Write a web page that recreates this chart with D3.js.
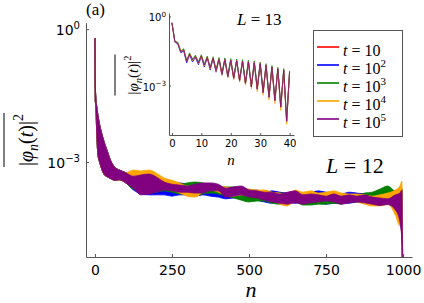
<!DOCTYPE html>
<html>
<head>
<meta charset="utf-8">
<script src="https://cdn.jsdelivr.net/npm/d3@7"></script>
<style>
  body { margin: 0; background: #fff; }
  svg { display: block; }
</style>
</head>
<body>
<svg id="chart" width="424" height="303"></svg>
<script>
// series: t = 10, 10^2, ... 10^5
const seriesExps = [1, 2, 3, 4, 5];
const seriesColors = ["#ff0000", "#0000ff", "#008000", "#ffa500", "#800080"];

// main panel (L = 12): the curves oscillate fast, so each is kept as a band
// values are log10 |phi_n|^2
const headN  = [0, 1, 3, 6, 10, 15, 20, 30, 40, 50, 65, 80, 100];
const headHi = [-0.20, -1.20, -1.55, -1.75, -1.95, -2.15, -2.30, -2.55, -2.75, -2.95, -3.12, -3.18, -3.24];
const headLo = [-0.25, -1.60, -1.75, -2.40, -2.85, -3.00, -3.12, -3.28, -3.33, -3.37, -3.41, -3.40, -3.47];

const midN = [125, 150, 175, 200, 225, 250, 275, 300, 325, 350, 375, 400, 425, 450, 475, 500, 525, 550,
  575, 600, 625, 650, 675, 700, 725, 750, 775, 800, 825, 850, 875, 900, 925, 950, 975, 990, 996];

const redHi = [-3.30,-3.33,-3.35,-3.40,-3.44,-3.48,-3.49,-3.51,-3.52,-3.51,-3.53,-3.55,-3.59,-3.60,-3.61,-3.64,-3.65,-3.67,-3.67,-3.69,-3.70,-3.70,-3.71,-3.70,-3.68,-3.69,-3.71,-3.72,-3.70,-3.71,-3.72,-3.74,-3.75,-3.75,-3.72,-3.66,-3.60];
const redLo = [-3.60,-3.70,-3.72,-3.72,-3.70,-3.73,-3.72,-3.72,-3.75,-3.73,-3.74,-3.77,-3.81,-3.80,-3.81,-3.82,-3.84,-3.87,-3.90,-3.89,-3.89,-3.90,-3.90,-3.88,-3.90,-3.92,-3.91,-3.92,-3.90,-3.89,-3.91,-3.92,-3.93,-3.92,-4.06,-4.30,-4.70];
const blueHi = [-3.29,-3.32,-3.34,-3.38,-3.43,-3.47,-3.47,-3.50,-3.52,-3.50,-3.52,-3.54,-3.59,-3.59,-3.61,-3.63,-3.63,-3.68,-3.65,-3.68,-3.70,-3.70,-3.70,-3.68,-3.65,-3.68,-3.70,-3.72,-3.68,-3.70,-3.72,-3.74,-3.77,-3.77,-3.72,-3.68,-3.63];
const blueLo = [-3.63,-3.72,-3.74,-3.74,-3.74,-3.77,-3.74,-3.74,-3.77,-3.74,-3.77,-3.79,-3.83,-3.81,-3.83,-3.83,-3.86,-3.90,-3.93,-3.90,-3.90,-3.93,-3.90,-3.90,-3.93,-3.95,-3.93,-3.93,-3.93,-3.90,-3.93,-3.93,-3.95,-3.93,-4.08,-4.35,-4.65];
const greenHi = [-3.27,-3.32,-3.32,-3.36,-3.43,-3.47,-3.50,-3.47,-3.45,-3.47,-3.52,-3.54,-3.56,-3.56,-3.59,-3.63,-3.65,-3.65,-3.68,-3.70,-3.70,-3.68,-3.72,-3.74,-3.72,-3.74,-3.72,-3.74,-3.77,-3.77,-3.70,-3.68,-3.61,-3.54,-3.65,-3.63,-3.59];
const greenLo = [-3.61,-3.68,-3.70,-3.68,-3.65,-3.68,-3.72,-3.70,-3.77,-3.72,-3.70,-3.72,-3.77,-3.81,-3.86,-3.90,-3.88,-3.88,-3.93,-3.95,-3.93,-3.90,-3.97,-3.97,-3.95,-3.95,-3.93,-3.95,-3.90,-3.90,-3.88,-3.86,-3.83,-3.81,-3.95,-4.20,-4.53];
const orangeHi = [-3.18,-3.20,-3.18,-3.25,-3.36,-3.41,-3.47,-3.54,-3.54,-3.50,-3.52,-3.54,-3.56,-3.59,-3.59,-3.61,-3.63,-3.63,-3.68,-3.70,-3.74,-3.63,-3.68,-3.65,-3.70,-3.68,-3.65,-3.70,-3.72,-3.72,-3.74,-3.77,-3.74,-3.70,-3.63,-3.54,-3.43];
const orangeLo = [-3.54,-3.63,-3.63,-3.59,-3.61,-3.63,-3.70,-3.77,-3.79,-3.68,-3.63,-3.68,-3.74,-3.77,-3.74,-3.77,-3.79,-3.81,-3.83,-3.95,-3.99,-3.86,-3.86,-3.83,-3.83,-3.83,-3.81,-3.88,-3.86,-3.90,-3.95,-3.99,-3.99,-3.95,-4.20,-4.44,-4.08];
const purpleHi = [-3.32,-3.29,-3.27,-3.34,-3.45,-3.50,-3.52,-3.54,-3.50,-3.47,-3.47,-3.50,-3.59,-3.56,-3.54,-3.63,-3.65,-3.68,-3.68,-3.72,-3.68,-3.65,-3.74,-3.72,-3.74,-3.77,-3.72,-3.77,-3.74,-3.77,-3.74,-3.79,-3.81,-3.83,-3.74,-3.70,-3.63];
const purpleLo = [-3.59,-3.74,-3.72,-3.68,-3.63,-3.65,-3.68,-3.68,-3.70,-3.70,-3.65,-3.65,-3.79,-3.77,-3.74,-3.79,-3.81,-3.86,-3.90,-3.93,-3.95,-3.92,-3.95,-3.92,-3.90,-3.88,-3.90,-3.95,-3.92,-3.90,-3.92,-3.95,-3.98,-3.96,-4.08,-4.35,-4.76];

// last site drops below the axis
const endN = 1000;
const endLog = -7;

// inset (L = 13), log10 values for n = 0..40
const insetN = [0,1,2,3,4,5,6,7,8,9,10,11,12,13,14,15,16,17,18,19,20,21,22,23,24,25,26,27,28,29,30,31,32,33,34,35,36,37,38,39,40];
const insetRed    = [-0.28,-1.09,-1.15,-1.52,-1.44,-1.96,-1.62,-1.89,-1.73,-2.02,-1.70,-2.12,-1.77,-2.25,-1.80,-2.36,-1.84,-2.51,-1.86,-2.61,-1.89,-2.69,-1.91,-2.79,-1.94,-2.91,-1.96,-3.06,-1.99,-3.16,-2.04,-3.31,-2.11,-3.51,-2.19,-3.66,-2.27,-3.94,-2.32,-4.56,-2.39];
const insetBlue   = [-0.28,-1.12,-1.20,-1.58,-1.50,-2.02,-1.68,-1.98,-1.78,-2.10,-1.75,-2.20,-1.80,-2.33,-1.83,-2.42,-1.86,-2.55,-1.88,-2.64,-1.91,-2.70,-1.93,-2.80,-1.96,-2.92,-1.98,-3.07,-2.01,-3.17,-2.06,-3.32,-2.13,-3.52,-2.21,-3.67,-2.29,-3.95,-2.34,-4.55,-2.41];
const insetGreen  = [-0.28,-1.08,-1.12,-1.50,-1.40,-1.90,-1.58,-1.86,-1.68,-1.97,-1.66,-2.08,-1.72,-2.20,-1.75,-2.30,-1.78,-2.45,-1.80,-2.55,-1.83,-2.63,-1.85,-2.72,-1.88,-2.85,-1.90,-3.00,-1.93,-3.10,-1.98,-3.25,-2.05,-3.45,-2.13,-3.60,-2.21,-3.88,-2.26,-4.50,-2.36];
const insetOrange = [-0.28,-1.10,-1.16,-1.53,-1.45,-1.94,-1.62,-1.92,-1.74,-2.03,-1.71,-2.14,-1.77,-2.27,-1.80,-2.39,-1.84,-2.55,-1.86,-2.66,-1.89,-2.75,-1.91,-2.86,-1.94,-2.99,-1.96,-3.14,-1.99,-3.26,-2.04,-3.42,-2.11,-3.62,-2.19,-3.78,-2.27,-4.08,-2.32,-4.68,-2.39];
const insetPurple = [-0.28,-1.10,-1.17,-1.54,-1.46,-1.95,-1.64,-1.90,-1.75,-2.01,-1.72,-2.11,-1.78,-2.24,-1.81,-2.35,-1.85,-2.50,-1.87,-2.60,-1.90,-2.68,-1.92,-2.78,-1.95,-2.90,-1.97,-3.05,-2.00,-3.15,-2.05,-3.30,-2.12,-3.50,-2.20,-3.65,-2.28,-3.93,-2.33,-4.55,-2.40];

const mainTicksX = [0, 250, 500, 750, 1000];
const insetTicksX = [0, 10, 20, 30, 40];
const ticksY = [0, -3];   // exponents
const yDomain = [7.2e-6, 1.4];

const mainBands = [
  { hi: redHi, lo: redLo },
  { hi: blueHi, lo: blueLo },
  { hi: greenHi, lo: greenLo },
  { hi: orangeHi, lo: orangeLo },
  { hi: purpleHi, lo: purpleLo }
];
const insetLines = [insetRed, insetBlue, insetGreen, insetOrange, insetPurple];

const axisColor = "#555";
const sans = "DejaVu Sans, sans-serif";
const serif = "Liberation Serif, DejaVu Serif, serif";

const svg = d3.select("#chart");

// ---------- main panel ----------
const x = d3.scaleLinear().domain([-29, 1029]).range([86, 412]);
const y = d3.scaleLog().domain(yDomain).range([257, 22.7]);

svg.append("clipPath").attr("id", "mainClip")
  .append("rect")
  .attr("x", x.range()[0]).attr("y", y.range()[1])
  .attr("width", x.range()[1] - x.range()[0])
  .attr("height", y.range()[0] - y.range()[1]);

const area = d3.area()
  .x(d => x(d.n))
  .y0(d => y(Math.pow(10, d.lo)))
  .y1(d => y(Math.pow(10, d.hi)))
  .curve(d3.curveMonotoneX);

const bandGroup = svg.append("g").attr("clip-path", "url(#mainClip)");
mainBands.forEach((b, i) => {
  const rows = headN.map((n, k) => ({ n: n, hi: headHi[k], lo: headLo[k] }))
    .concat(midN.map((n, k) => ({ n: n, hi: b.hi[k], lo: b.lo[k] })))
    .concat([{ n: endN, hi: endLog, lo: endLog }]);
  bandGroup.append("path")
    .datum(rows)
    .attr("d", area)
    .attr("fill", seriesColors[i])
    .attr("stroke", seriesColors[i])
    .attr("stroke-width", 0.8);
});

function styleAxis(g) {
  g.select(".domain").attr("stroke", axisColor);
  g.selectAll(".tick line").attr("stroke", axisColor);
}

function powerLabel(sel, exp, size) {
  sel.text(null);
  sel.append("tspan").text("10");
  sel.append("tspan")
    .attr("dy", -size * 0.42)
    .attr("font-size", size * 0.72)
    .text(exp === 0 ? "0" : "\u2212" + Math.abs(exp));
}

const gx = svg.append("g")
  .attr("transform", `translate(0,${y.range()[0]})`)
  .call(d3.axisBottom(x).tickValues(mainTicksX).tickFormat(d3.format("d"))
    .tickSize(-3).tickSizeOuter(0).tickPadding(8))
  .call(styleAxis);
gx.selectAll("text").attr("font-family", sans).attr("font-size", 14).attr("fill", "#000");

svg.append("g")
  .attr("transform", `translate(${x.range()[0]},0)`)
  .call(d3.axisLeft(y).tickValues(ticksY.map(e => Math.pow(10, e))).tickSize(-3).tickSizeOuter(0).tickFormat(""))
  .call(styleAxis);

ticksY.forEach(e => {
  const t = svg.append("text")
    .attr("x", 80)
    .attr("y", y(Math.pow(10, e)) + 6)
    .attr("text-anchor", "end")
    .attr("font-family", sans)
    .attr("font-size", 14);
  powerLabel(t, e, 14);
});

// y label with overline, rotated
function overLabel(cx, cy, size, gap) {
  const g = svg.append("g").attr("transform", `translate(${cx},${cy}) rotate(-90)`);
  const t = g.append("text")
    .attr("text-anchor", "middle")
    .attr("font-family", serif)
    .attr("font-size", size);
  t.append("tspan").text("|");
  t.append("tspan").attr("font-style", "italic").text("\u03c6");
  t.append("tspan").attr("font-style", "italic").attr("font-size", size * 0.7).attr("dy", size * 0.25).text("n");
  t.append("tspan").attr("dy", -size * 0.25).text("(");
  t.append("tspan").attr("font-style", "italic").text("t");
  t.append("tspan").text(")|");
  t.append("tspan").attr("font-size", size * 0.7).attr("dy", -size * 0.5).text("2");
  const w = t.node().getComputedTextLength();
  g.append("line")
    .attr("x1", -w / 2 - 1).attr("x2", w / 2 + 1)
    .attr("y1", -gap).attr("y2", -gap)
    .attr("stroke", "#000").attr("stroke-width", 1);
}
overLabel(33, 140, 20, 29);

svg.append("text")
  .attr("x", 251).attr("y", 297)
  .attr("text-anchor", "middle")
  .attr("font-family", serif).attr("font-style", "italic").attr("font-size", 22)
  .text("n");

svg.append("text")
  .attr("x", 86).attr("y", 15)
  .attr("font-family", serif).attr("font-size", 17)
  .text("(a)");

function lLabel(xp, yp, size, val) {
  const t = svg.append("text").attr("x", xp).attr("y", yp)
    .attr("font-family", serif).attr("font-size", size);
  t.append("tspan").attr("font-style", "italic").text("L");
  t.append("tspan").text(" = " + val);
}
lLabel(326, 173, 22, 12);
lLabel(237, 25, 17, 13);

// ---------- inset ----------
const xi = d3.scaleLinear().domain([-1, 41.5]).range([169, 294]);
const yi = d3.scaleLog().domain(yDomain).range([135, 13]);

const insetLine = d3.line()
  .x((d, k) => xi(insetN[k]))
  .y(d => yi(Math.pow(10, d)));

insetLines.forEach((vals, i) => {
  svg.append("path")
    .datum(vals)
    .attr("d", insetLine)
    .attr("fill", "none")
    .attr("stroke", seriesColors[i])
    .attr("stroke-opacity", 0.75)
    .attr("stroke-width", 1);
});

const gxi = svg.append("g")
  .attr("transform", `translate(0,${yi.range()[0]})`)
  .call(d3.axisBottom(xi).tickValues(insetTicksX).tickSize(-2).tickSizeOuter(0).tickPadding(5))
  .call(styleAxis);
gxi.selectAll("text").attr("font-family", sans).attr("font-size", 10).attr("fill", "#000");

svg.append("g")
  .attr("transform", `translate(${xi.range()[0]},0)`)
  .call(d3.axisLeft(yi).tickValues(ticksY.map(e => Math.pow(10, e))).tickSize(-2).tickSizeOuter(0).tickFormat(""))
  .call(styleAxis);

ticksY.forEach(e => {
  const t = svg.append("text")
    .attr("x", 166)
    .attr("y", yi(Math.pow(10, e)) + 5)
    .attr("text-anchor", "end")
    .attr("font-family", sans)
    .attr("font-size", 10);
  powerLabel(t, e, 10);
});

overLabel(138, 75, 15, 23);

svg.append("text")
  .attr("x", 231).attr("y", 165)
  .attr("text-anchor", "middle")
  .attr("font-family", serif).attr("font-style", "italic").attr("font-size", 15)
  .text("n");

// ---------- legend ----------
const legend = svg.append("g");
legend.append("rect")
  .attr("x", 313.5).attr("y", 30.5)
  .attr("width", 89).attr("height", 106)
  .attr("fill", "#fff").attr("stroke", axisColor);

const legendY = d3.scalePoint().domain(seriesExps).range([47, 119]);
seriesExps.forEach((e, i) => {
  const ly = legendY(e);
  legend.append("line")
    .attr("x1", 317).attr("x2", 339)
    .attr("y1", ly).attr("y2", ly)
    .attr("stroke", seriesColors[i]).attr("stroke-opacity", 0.8).attr("stroke-width", 2);
  const t = legend.append("text")
    .attr("x", 343).attr("y", ly + 9)
    .attr("font-family", serif).attr("font-size", 16);
  t.append("tspan").attr("font-style", "italic").text("t");
  t.append("tspan").text(" = 10");
  if (e > 1) t.append("tspan").attr("dy", -7).attr("font-size", 11).text(e);
});
</script>
</body>
</html>
